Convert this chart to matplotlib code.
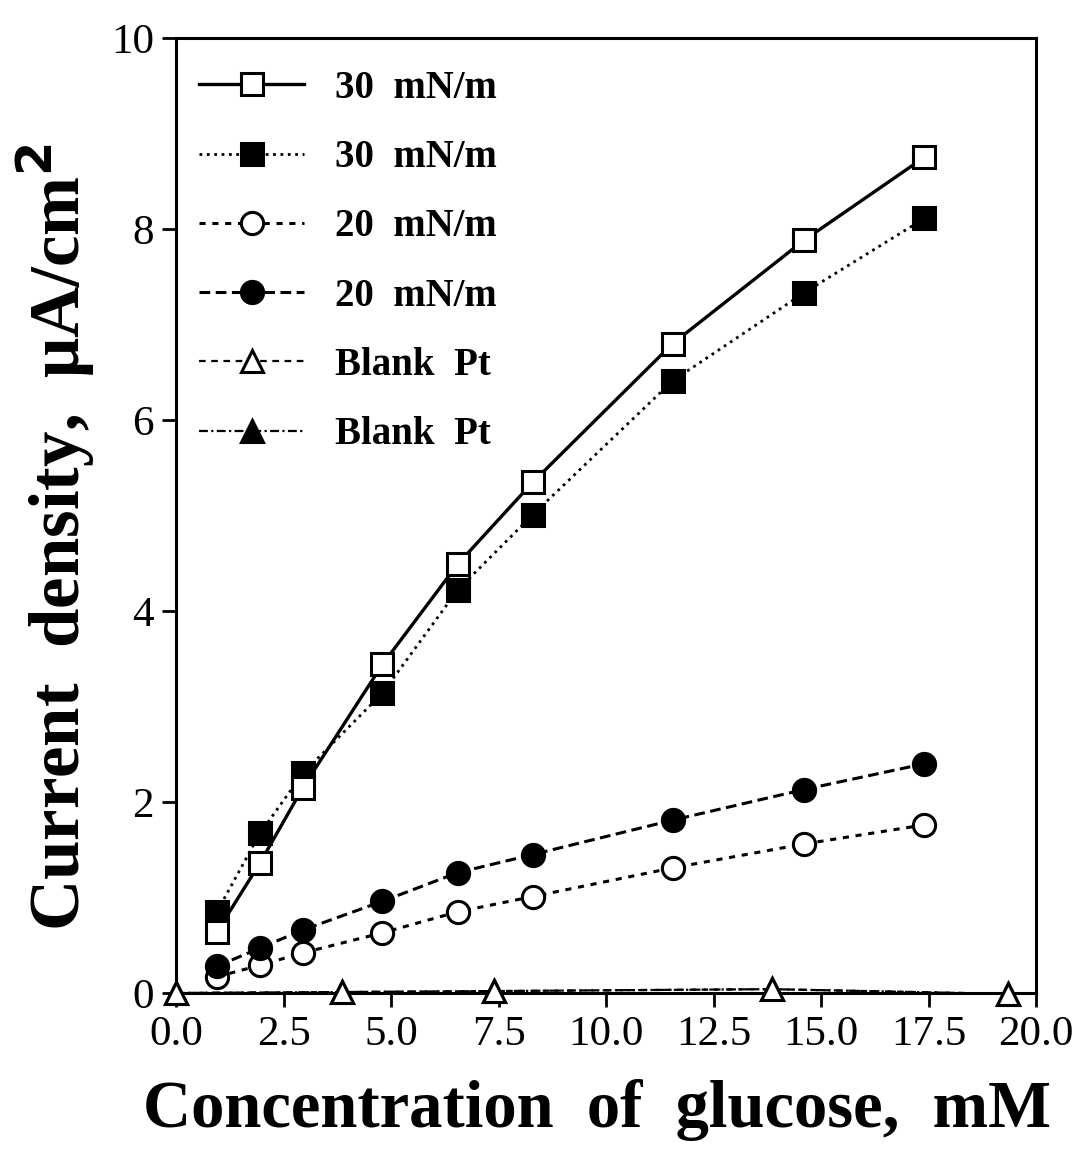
import matplotlib
matplotlib.use("Agg")
import matplotlib.pyplot as plt

conc = [0.95, 1.95, 2.95, 4.8, 6.55, 8.3, 11.55, 14.6, 17.4]
sq_open = [0.64, 1.36, 2.15, 3.44, 4.49, 5.35, 6.80, 7.88, 8.75]
sq_filled = [0.85, 1.67, 2.30, 3.14, 4.22, 5.01, 6.41, 7.33, 8.11]
ci_open = [0.17, 0.29, 0.42, 0.63, 0.85, 1.01, 1.31, 1.56, 1.76]
ci_filled = [0.28, 0.47, 0.66, 0.96, 1.26, 1.45, 1.81, 2.13, 2.40]
blank_x = [0.0, 3.85, 7.4, 13.85, 19.35]
tri_open = [0.0, 0.01, 0.02, 0.04, -0.01]
tri_filled = [0.0, 0.01, 0.02, 0.04, -0.01]

labels = ["30  mN/m", "30  mN/m", "20  mN/m", "20  mN/m", "Blank  Pt", "Blank  Pt"]
xticks = [0.0, 2.5, 5.0, 7.5, 10.0, 12.5, 15.0, 17.5, 20.0]
yticks = [0, 2, 4, 6, 8, 10]

plt.rcParams['font.family'] = ['Liberation Serif', 'DejaVu Serif']

fig = plt.figure(figsize=(10.82, 11.58), dpi=100)
ax = fig.add_axes([0.1627, 0.1425, 0.7948, 0.8247])

ms = 16
mew = 2.2
lw_s = 2.4
h1, = ax.plot(conc, sq_open, '-', color='black', lw=lw_s, marker='s', ms=ms,
              mfc='white', mec='black', mew=mew, zorder=5)
h2, = ax.plot(conc, sq_filled, ':', color='black', lw=2.0, marker='s', ms=ms,
              mfc='black', mec='black', mew=mew, zorder=4)
h3, = ax.plot(conc, ci_open, color='black', lw=2.2, ls=(0, (2, 2.2)), marker='o', ms=ms,
              mfc='white', mec='black', mew=mew, zorder=4)
h4, = ax.plot(conc, ci_filled, color='black', lw=2.2, ls=(0, (3.5, 1.8)), marker='o', ms=ms,
              mfc='black', mec='black', mew=mew, zorder=4)
h6, = ax.plot(blank_x, tri_filled, color='black', lw=1.6, ls=(0, (4, 1.5, 1, 1.5)), marker='^', ms=ms,
              mfc='black', mec='black', mew=mew, zorder=3, clip_on=False)
h5, = ax.plot(blank_x, tri_open, color='black', lw=1.6, ls=(0, (3, 2.5)), marker='^', ms=ms,
              mfc='white', mec='black', mew=mew, zorder=6, clip_on=False)

ax.set_xlim(0, 20)
ax.set_ylim(0, 10)
ax.set_xticks(xticks)
ax.set_xticklabels([f"{v:.1f}" for v in xticks])
ax.set_yticks(yticks)
ax.set_yticklabels([str(v) for v in yticks])
ax.tick_params(axis='both', direction='out', length=10, width=2, labelsize=31, pad=6)
for s in ax.spines.values():
    s.set_linewidth(2.2)

ax.set_xlabel("Concentration  of  glucose,  mM", fontsize=48, fontweight='bold')
ax.xaxis.set_label_coords(0.49, -0.09)
ax.set_ylabel("Current  density,  μA/cm$^\\mathbf{2}$", fontsize=51, fontweight='bold')
ax.yaxis.set_label_coords(-0.092, 0.477)

leg = ax.legend([h1, h2, h3, h4, h5, h6], labels, loc='upper left', frameon=False,
                prop={'weight': 'bold', 'size': 28}, handlelength=2.7, handletextpad=0.8,
                labelspacing=0.83, borderaxespad=0.2, bbox_to_anchor=(0.0, 0.991))

fig.savefig("out.png", dpi=100)
